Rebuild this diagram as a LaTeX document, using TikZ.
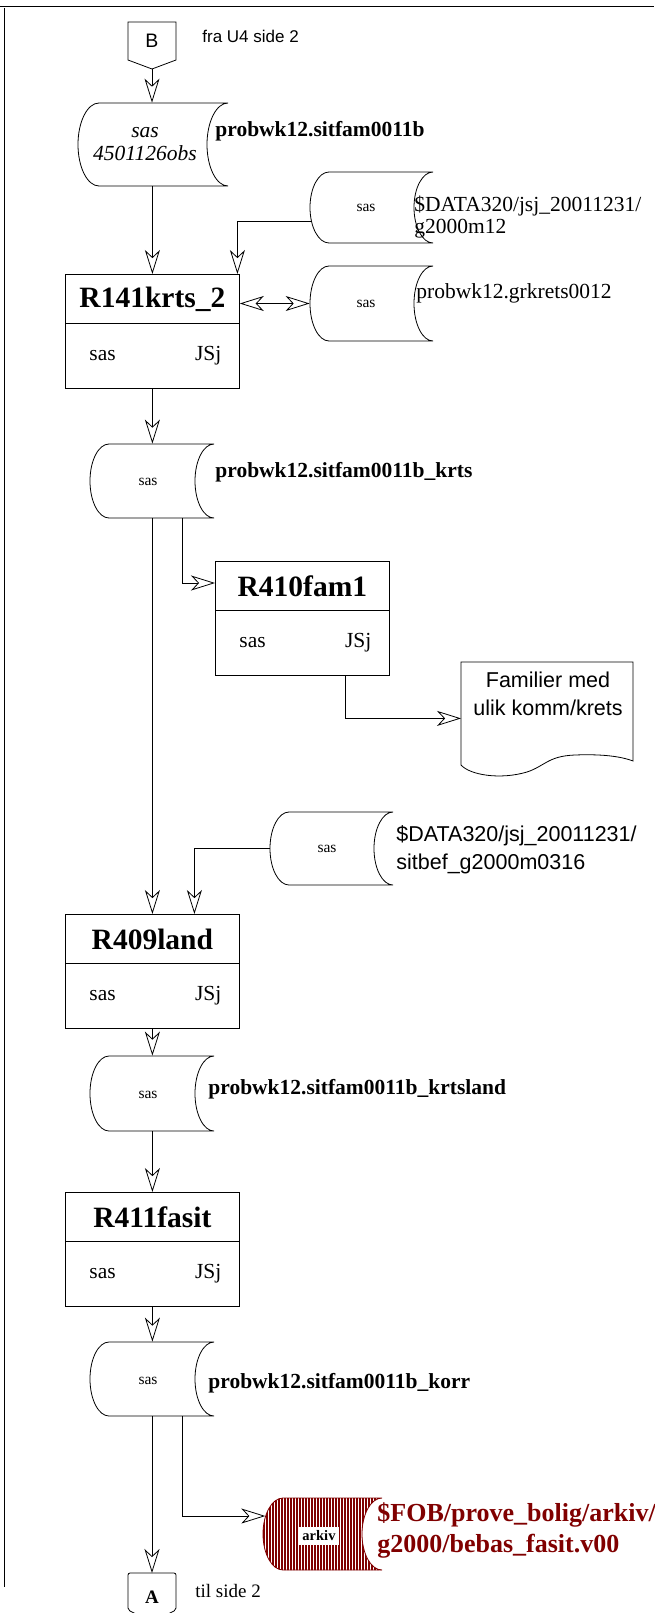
\documentclass[tikz,border=0pt]{standalone}
\usepackage{fontspec}
\setmainfont{Liberation Serif}
\newfontfamily\arialf{Liberation Sans}
\usetikzlibrary{arrows.meta,patterns.meta}
\definecolor{arkred}{RGB}{128,0,0}

% data store (horizontal cylinder): [opts]{name}{L}{R}{T}{B}{d}
\newcommand{\dstore}[7][]{%
  \pgfmathsetmacro\dsM{(#5+#6)/2}%
  \pgfmathsetmacro\dsH{(#6-#5)/2*0.552}%
  \pgfmathsetmacro\dsK{#7*0.552}%
  \pgfmathsetmacro\dsX{(#3+#4)/2}%
  \pgfmathsetmacro\dsW{#4-#3}%
  \pgfmathsetmacro\dsHt{#6-#5}%
  \draw[#1] ({#3+#7},#5) -- (#4,#5)
    .. controls ({#4-\dsK},#5) and ({#4-#7},{\dsM-\dsH}) .. ({#4-#7},\dsM)
    .. controls ({#4-#7},{\dsM+\dsH}) and ({#4-\dsK},#6) .. (#4,#6)
    -- ({#3+#7},#6)
    .. controls ({#3+#7-\dsK},#6) and (#3,{\dsM+\dsH}) .. (#3,\dsM)
    .. controls (#3,{\dsM-\dsH}) and ({#3+#7-\dsK},#5) .. ({#3+#7},#5) -- cycle;
  \node[inner sep=0pt, minimum width=\dsW pt, minimum height=\dsHt pt] (#2) at (\dsX,\dsM) {};
}

% process box: {name}{left}{top}{title}
\newcommand{\procbox}[4]{%
  \node[draw, inner sep=0pt, minimum width=174pt, minimum height=114pt, anchor=north west] (#1) at (#2,#3) {};
  \draw ([yshift=-49pt]#1.north west) -- ([yshift=-49pt]#1.north east);
  \node[titlef] (#1t) at ([yshift=-25pt]#1.north) {#4};
  \node[bodyf, anchor=west] (#1s) at ([shift={(24pt,-82pt)}]#1.north west) {sas};
  \node[bodyf, anchor=east] (#1j) at ([shift={(-18pt,-82pt)}]#1.north east) {JSj};
}

\begin{document}
\begin{tikzpicture}[x=1pt,y=-1pt,line width=0.8pt,
  lbl/.style={inner sep=0pt, anchor=west},
  serifL/.style={font=\fontsize{21.5}{21.5}\selectfont, align=left},
  boldL/.style={font=\bfseries\fontsize{21.5}{21.5}\selectfont},
  sansL/.style={font=\arialf\fontsize{21.5}{28}\selectfont},
  titlef/.style={inner sep=0pt, font=\bfseries\fontsize{29.5}{30}\selectfont},
  bodyf/.style={inner sep=0pt, font=\fontsize{21.5}{22}\selectfont},
  smallsas/.style={inner sep=0pt, font=\fontsize{15.5}{16}\selectfont},
  arr/.style={-{Stealth[open,length=24pt,width=15pt,inset=7pt]}},
  darr/.style={{Stealth[open,length=24pt,width=15pt,inset=7pt]}-{Stealth[open,length=24pt,width=15pt,inset=7pt]}}
]
\useasboundingbox (0,0) rectangle (654,1613);

% frame
\draw (0,6) -- (654,6);
\draw (4,8) -- (4,1587);

% B off-page connector
\draw (128,22) -- (176,22) -- (176,60) -- (152,69) -- (128,60) -- cycle;
\node[inner sep=0pt, font=\arialf\fontsize{19.5}{19.5}\selectfont] (B) at (152,41) {B};
\coordinate (Btip) at (152,69);
\node[lbl, font=\arialf\fontsize{17}{17}\selectfont] (fra) at (202,36) {fra U4 side 2};

% cylinder 1
\dstore{cyl1}{78}{228}{103}{186}{21}
\node[inner sep=0pt, align=center, font=\itshape\fontsize{21.5}{23}\selectfont] (cyl1t) at (145,144.5) {sas\\4501126obs};
\node[lbl, boldL] (cyl1l) at (215,131) {probwk12.sitfam0011b};

% data1
\dstore{data1}{310}{433}{172}{243}{19}
\node[smallsas] (data1t) at (366,207.5) {sas};
\node[lbl, serifL] (data1l) at (414,217) {\$DATA320/jsj\_20011231/\\g2000m12};

% grkrets
\dstore{grk}{310}{433}{266}{341}{19}
\node[smallsas] (grkt) at (366,303.5) {sas};
\node[lbl, serifL] (grkl) at (416,293) {probwk12.grkrets0012};

% R141
\procbox{r141}{65}{274}{R141krts\_2}

% krts
\dstore{krts}{90}{214}{444}{518}{19}
\node[smallsas] (krtst) at (148,482) {sas};
\node[lbl, boldL] (krtsl) at (215,472) {probwk12.sitfam0011b\_krts};

% R410
\procbox{r410}{215}{561}{R410fam1}

% document
\node[inner sep=0pt, minimum width=172pt, minimum height=103pt, anchor=north west] (doc) at (461,662) {};
\draw (461,765) -- (461,662) -- (633,662) -- (633,761)
  .. controls (620,756) and (600,754) .. (575,755)
  .. controls (548,756) and (545,766) .. (527,772)
  .. controls (500,780) and (470,775) .. (461,765) -- cycle;
\node[inner sep=0pt, align=center, sansL] (doct) at (548,694) {Familier med\\ulik komm/krets};

% sitbef
\dstore{sitbef}{270}{393}{812}{885}{19}
\node[smallsas] (sitbeft) at (327,848.5) {sas};
\node[lbl, sansL, align=left] (sitbefl) at (396,850) {\$DATA320/jsj\_20011231/\\sitbef\_g2000m0316};

% R409
\procbox{r409}{65}{914}{R409land}

% krtsland
\dstore{krtsland}{90}{214}{1056}{1131}{19}
\node[smallsas] (krtslandt) at (148,1095) {sas};
\node[lbl, boldL] (krtslandl) at (208,1089) {probwk12.sitfam0011b\_krtsland};

% R411
\procbox{r411}{65}{1192}{R411fasit}

% korr
\dstore{korr}{90}{214}{1342}{1416}{19}
\node[smallsas] (korrt) at (148,1381) {sas};
\node[lbl, boldL] (korrl) at (208,1383) {probwk12.sitfam0011b\_korr};

% arkiv
\dstore[draw=arkred, pattern={Lines[angle=90,distance=3pt,line width=1.3pt]}, pattern color=arkred]{arkiv}{263}{382}{1498}{1570}{20}
\node[fill=white, inner xsep=3.5pt, inner ysep=4pt, font=\bfseries\fontsize{14.5}{15}\selectfont] (arkivt) at (319,1536) {arkiv};
\node[lbl, align=left, text=arkred, font=\bfseries\fontsize{26}{31}\selectfont] (arkivl) at (377,1530.5) {\$FOB/prove\_bolig/arkiv/\\g2000/bebas\_fasit.v00};

% A off-page connector
\draw[rounded corners=2pt] (140,1616) -- (128,1610) -- (128,1573) -- (176,1573) -- (176,1610) -- (164,1616);
\coordinate (Atop) at (152,1573);
\node[inner sep=0pt, font=\bfseries\fontsize{19}{19}\selectfont] (A) at (152,1597) {A};
\node[lbl, font=\fontsize{19}{19}\selectfont] (til) at (195,1591) {til side 2};

% connectors
\draw[arr] (Btip) -- (cyl1.north -| Btip);
\draw[arr] (cyl1.south -| r141.north) -- (r141.north);
\draw[arr] ([shift={(2pt,-14pt)}]data1.west) -| ([xshift=85pt]r141.north);
\draw[darr] (grk.west -| r141.east) -- (grk.west);
\draw[arr] (r141.south) -- (krts.north -| r141.south);
\draw[arr] (krts.south -| r409.north) -- (r409.north);
\draw[arr] ([xshift=30pt]krts.south) |- ([yshift=-22pt]r410.north west);
\draw[arr] ([xshift=43pt]r410.south) |- ([yshift=-4.5pt]doc.west);
\draw[arr] (sitbef.west) -| ([xshift=42pt]r409.north);
\draw[arr] (r409.south) -- (krtsland.north -| r409.south);
\draw[arr] (krtsland.south -| r411.north) -- (r411.north);
\draw[arr] (r411.south) -- (korr.north -| r411.south);
\draw[arr] (korr.south -| Atop) -- (Atop);
\draw[arr] ([xshift=30pt]korr.south) |- ([shift={(2.7pt,18pt)}]arkiv.west);
\end{tikzpicture}
\end{document}
